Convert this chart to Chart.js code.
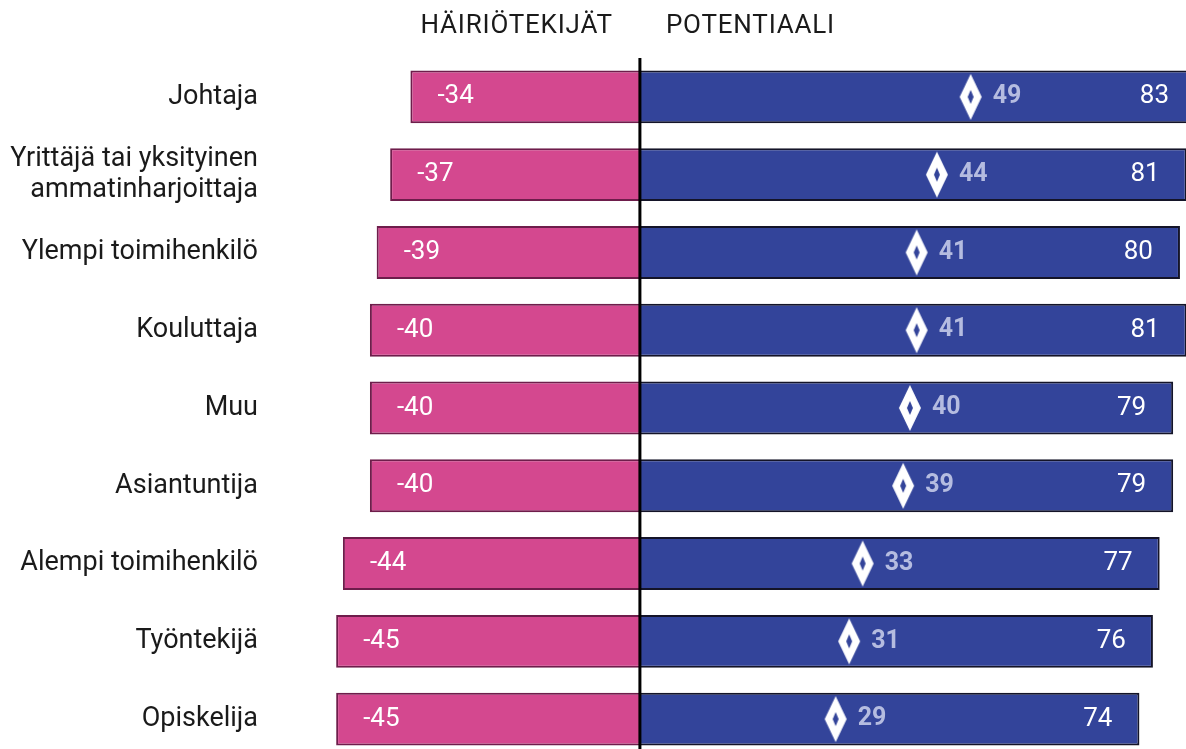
<!DOCTYPE html>
<html>
<head>
<meta charset="utf-8">
<script src="https://cdn.jsdelivr.net/npm/chart.js@4/dist/chart.umd.min.js"></script>
<style>
  html, body { margin: 0; padding: 0; background: #fff; overflow: hidden; }
  #wrap { width: 1186px; height: 760px; }
</style>
</head>
<body>
<div id="wrap"><canvas id="myChart" width="1186" height="760"></canvas></div>
<script>
// data
var categories = [
    'Johtaja',
    ['Yrittäjä tai yksityinen', 'ammatinharjoittaja'],
    'Ylempi toimihenkilö',
    'Kouluttaja',
    'Muu',
    'Asiantuntija',
    'Alempi toimihenkilö',
    'Työntekijä',
    'Opiskelija'
];
var hairiotekijat = [-34, -37, -39, -40, -40, -40, -44, -45, -45];
var potentiaali = [83, 81, 80, 81, 79, 79, 77, 76, 74];
var netto = [49, 44, 41, 41, 40, 39, 33, 31, 29];
var otsikot = ['HÄIRIÖTEKIJÄT', 'POTENTIAALI'];

var PINK = '#d4488f';
var BLUE = '#33449a';

// diamond marker (white with small blue hole)
function makeDiamond() {
    var c = document.createElement('canvas');
    c.width = 24; c.height = 48;
    var g = c.getContext('2d');
    g.fillStyle = '#ffffff';
    g.beginPath();
    g.moveTo(12, 1); g.lineTo(23, 24); g.lineTo(12, 47); g.lineTo(1, 24);
    g.closePath(); g.fill();
    g.fillStyle = BLUE;
    g.beginPath();
    g.moveTo(12, 17); g.lineTo(15, 24); g.lineTo(12, 31); g.lineTo(9, 24);
    g.closePath(); g.fill();
    return c;
}

// dataset order: 0 = diamonds, 1 = pink, 2 = blue
var labelPlugin = {
    id: 'labels',
    afterDatasetsDraw: function(chart) {
        var ctx = chart.ctx;
        var area = chart.chartArea;
        var x0 = chart.scales.x.getPixelForValue(0);

        // zero line
        ctx.save();
        ctx.strokeStyle = '#000';
        ctx.lineWidth = 3;
        ctx.beginPath();
        ctx.moveTo(x0, area.top);
        ctx.lineTo(x0, chart.height);
        ctx.stroke();

        ctx.textBaseline = 'middle';
        ctx.font = '400 26px Roboto';
        ctx.fillStyle = '#ffffff';

        chart.getDatasetMeta(1).data.forEach(function(bar, i) {
            ctx.textAlign = 'left';
            ctx.fillText(String(hairiotekijat[i]), bar.x + 27, bar.y);
        });
        chart.getDatasetMeta(2).data.forEach(function(bar, i) {
            ctx.textAlign = 'right';
            var end = Math.min(bar.x, area.right + 10);
            ctx.fillText(String(potentiaali[i]), end - 27, bar.y);
        });
        ctx.font = '700 25px Roboto';
        ctx.fillStyle = '#b5bce0';
        chart.getDatasetMeta(0).data.forEach(function(pt, i) {
            ctx.textAlign = 'left';
            ctx.fillText(String(netto[i]), pt.x + 22, pt.y);
        });

        // column titles
        ctx.font = '400 26px Roboto';
        ctx.fillStyle = '#1a1a1a';
        ctx.letterSpacing = '0.8px';
        ctx.textAlign = 'right';
        ctx.fillText(otsikot[0], x0 - 27, 26);
        ctx.textAlign = 'left';
        ctx.fillText(otsikot[1], x0 + 26, 26);
        ctx.restore();
    }
};

var data = {
    labels: categories,
    datasets: [{
        label: 'Netto',
        type: 'line',
        indexAxis: 'y',
        data: netto,
        showLine: false,
        pointStyle: makeDiamond(),
        pointRadius: 12,
        pointHoverRadius: 12,
        order: 0
    }, {
        label: 'Häiriötekijät',
        data: hairiotekijat,
        backgroundColor: PINK,
        borderColor: '#6e1d4b',
        borderWidth: 2,
        grouped: false,
        barPercentage: 0.68,
        categoryPercentage: 1,
        order: 1
    }, {
        label: 'Potentiaali',
        data: potentiaali,
        backgroundColor: BLUE,
        borderColor: '#141428',
        borderWidth: 2,
        grouped: false,
        barPercentage: 0.68,
        categoryPercentage: 1,
        order: 1
    }]
};

var options = {
    indexAxis: 'y',
    responsive: false,
    animation: false,
    layout: { autoPadding: false, padding: { top: 58, bottom: 2, left: 0, right: 0 } },
    plugins: {
        legend: { display: false },
        tooltip: { enabled: false }
    },
    scales: {
        x: {
            display: false,
            min: -54.8,
            max: 80.9
        },
        y: {
            grid: { display: false, drawTicks: false },
            border: { display: false },
            ticks: {
                padding: 12,
                color: '#1a1a1a',
                font: { family: 'Roboto', size: 27, lineHeight: 1.15 }
            },
            afterFit: function(scale) {
                scale.width = 270;
                scale.paddingTop = 0;
                scale.paddingBottom = 0;
            }
        }
    }
};

var ctx = document.getElementById('myChart').getContext('2d');
var myChart = new Chart(ctx, {
    type: 'bar',
    data: data,
    options: options,
    plugins: [labelPlugin]
});
</script>
</body>
</html>
